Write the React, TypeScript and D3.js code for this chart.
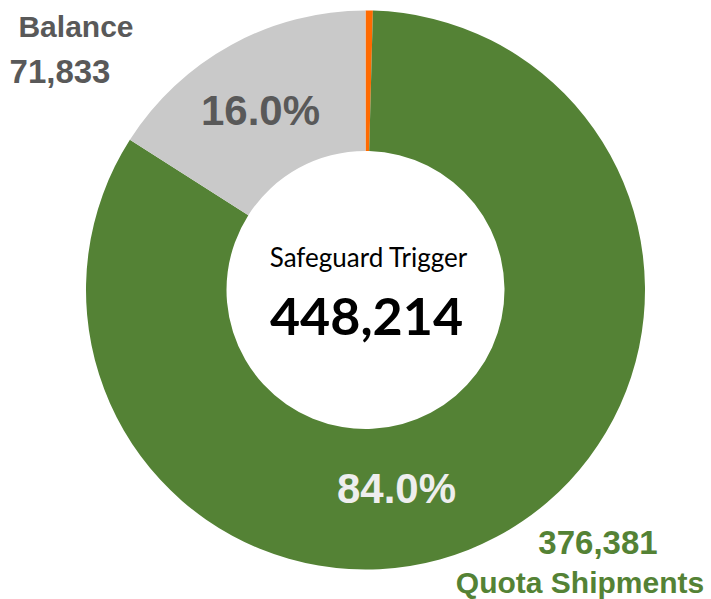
import React from "react";
import * as d3 from "d3";

const categories = ["Marker", "Quota Shipments", "Balance"];
const values = [1900, 376381, 71833];
const colors = ["#ff6a00", "#548235", "#c9c9c9"];
const percentLabels = ["", "84.0%", "16.0%"];
const centerTitle = "Safeguard Trigger";
const centerValue = "448,214";

export default function App() {
  const W = 711, H = 599;
  const cx = 365.5, cy = 290;
  const outerR = 279.5, innerR = 139;
  const pie = d3.pie<number>().sort(null).startAngle(0).endAngle(2 * Math.PI);
  const arcs = pie(values);
  const arc = d3.arc<d3.PieArcDatum<number>>().innerRadius(innerR).outerRadius(outerR);
  const arial = "'Liberation Sans', Arial, sans-serif";
  return (
    <svg width={W} height={H} style={{ position: "absolute", left: 0, top: 0, background: "#fff" }}>
      <g transform={`translate(${cx},${cy})`}>
        {arcs.map((a, i) => (
          <path key={categories[i]} d={arc(a) || ""} fill={colors[i]} />
        ))}
        <text x={31} y={213} textAnchor="middle" fontFamily={arial} fontWeight="bold" fontSize={42} fill="#eeeeee">
          {percentLabels[1]}
        </text>
        <text x={-105} y={-165} textAnchor="middle" fontFamily={arial} fontWeight="bold" fontSize={42} fill="#595959">
          {percentLabels[2]}
        </text>
        <text x={3} y={-23} textAnchor="middle" fontFamily="Lato, 'Open Sans', sans-serif" fontSize={26} fill="#000">
          {centerTitle}
        </text>
        <text x={1} y={45} textAnchor="middle" fontFamily="Lato, 'Open Sans', sans-serif" fontWeight="bold" fontSize={52} fill="#000">
          {centerValue}
        </text>
      </g>
      <text x={76} y={37} textAnchor="middle" fontFamily={arial} fontWeight="bold" fontSize={30} fill="#595959">
        {categories[2]}
      </text>
      <text x={60} y={83} textAnchor="middle" fontFamily={arial} fontWeight="bold" fontSize={33} fill="#595959">
        {d3.format(",")(values[2])}
      </text>
      <text x={598} y={554} textAnchor="middle" fontFamily={arial} fontWeight="bold" fontSize={33} fill="#548235">
        {d3.format(",")(values[1])}
      </text>
      <text x={580} y={593} textAnchor="middle" fontFamily={arial} fontWeight="bold" fontSize={30} fill="#548235">
        {categories[1]}
      </text>
    </svg>
  );
}
